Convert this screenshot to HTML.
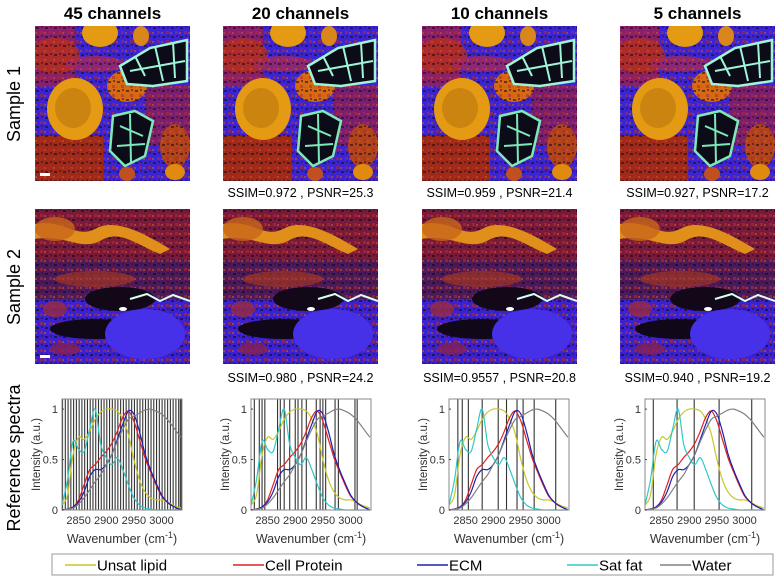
<!DOCTYPE html>
<html><head><meta charset="utf-8"><style>
body{margin:0;background:#fff;width:783px;height:582px;overflow:hidden;font-family:"Liberation Sans",Arial,sans-serif}
svg{display:block}
</style></head><body>
<svg id="fig" width="783" height="582" viewBox="0 0 783 582" xmlns="http://www.w3.org/2000/svg" font-family="Liberation Sans, Arial, sans-serif">
<defs>
<clipPath id="tileclip"><rect x="0" y="0" width="155" height="155"/></clipPath>
<pattern id="speck" width="9" height="9" patternUnits="userSpaceOnUse">
  <rect x="1" y="1" width="3" height="2" fill="#120818"/>
  <rect x="5" y="5" width="3" height="3" fill="#b02a30"/>
  <rect x="6" y="0" width="2" height="2" fill="#301040"/>
  <rect x="0" y="6" width="2" height="2" fill="#d05a20"/>
</pattern>
<g id="s1">
  <rect width="155" height="155" fill="#3a24d4"/>
  <rect x="0" y="0" width="40" height="60" fill="#8a1f6a"/>
  <rect x="0" y="110" width="68" height="45" fill="#a02a18"/>
  <rect x="110" y="60" width="45" height="60" fill="#7a1e70"/>
  <ellipse cx="20" cy="30" rx="25" ry="18" fill="#b5301a" opacity="0.8"/>
  <ellipse cx="60" cy="38" rx="30" ry="8" fill="#a02860" opacity="0.8"/>
  <ellipse cx="92" cy="60" rx="20" ry="16" fill="#d56a10"/>
  <ellipse cx="140" cy="120" rx="15" ry="22" fill="#b2441a"/>
  <rect width="155" height="155" fill="url(#speck)" opacity="0.55"/>
  <ellipse cx="140" cy="146" rx="10" ry="8" fill="#e08a10"/>
  <ellipse cx="40" cy="83" rx="28" ry="31" fill="#e49a12"/>
  <ellipse cx="38" cy="82" rx="18" ry="20" fill="#b06a10" opacity="0.45"/>
  <ellipse cx="65" cy="7" rx="18" ry="14" fill="#e49a12"/>
  <ellipse cx="106" cy="10" rx="8" ry="10" fill="#d9861a"/>
  <polygon points="85,40 115,22 152,14 152,55 118,60 92,58" fill="#0c0c18"/>
  <polygon points="85,40 115,22 152,14 152,55 118,60 92,58" fill="none" stroke="#9ff5d8" stroke-width="2.5"/>
  <path d="M100,30 L110,50 M120,20 L128,55 M138,16 L140,52 M95,45 L150,35" stroke="#9ff5d8" stroke-width="2"/>
  <polygon points="78,90 100,85 118,95 110,130 90,140 75,125" fill="#0c0c18"/>
  <polygon points="78,90 100,85 118,95 110,130 90,140 75,125" fill="none" stroke="#7ee8b8" stroke-width="2.5"/>
  <path d="M85,100 L108,110 M82,120 L110,118 M95,88 L96,138" stroke="#7ee8b8" stroke-width="2"/>
  <ellipse cx="92" cy="148" rx="8" ry="7" fill="#c05020"/>
</g>
<g id="s2">
  <rect width="155" height="155" fill="#3a22d0"/>
  <rect x="0" y="0" width="155" height="50" fill="#7a1a3a"/>
  <rect x="0" y="50" width="155" height="40" fill="#4a1a5a"/>
  <rect width="155" height="155" fill="url(#speck)" opacity="0.6"/>
  <path d="M0,15 C30,10 40,30 60,20 C80,8 110,25 135,40 L125,45 C100,35 85,20 65,32 C45,42 30,25 0,30 Z" fill="#e0901a"/>
  <ellipse cx="20" cy="20" rx="20" ry="12" fill="#c8661a" opacity="0.8"/>
  <ellipse cx="60" cy="70" rx="40" ry="8" fill="#b43a1a" opacity="0.6"/>
  <ellipse cx="85" cy="90" rx="35" ry="12" fill="#120818"/>
  <ellipse cx="60" cy="120" rx="45" ry="10" fill="#100818"/>
  <ellipse cx="110" cy="125" rx="40" ry="25" fill="#4630e8"/>
  <path d="M95,90 L112,85 L125,92 L138,86 L155,92" stroke="#d8fff0" stroke-width="2" fill="none"/>
  <ellipse cx="88" cy="100" rx="4" ry="2" fill="#fff"/>
  <ellipse cx="20" cy="100" rx="12" ry="8" fill="#9a2a40" opacity="0.8"/>
  <ellipse cx="30" cy="140" rx="15" ry="6" fill="#8a2050" opacity="0.8"/>
</g>
</defs>
<g id="content"></g>
</svg>
<script>
// ---- data ----
const wn = [2820,2830,2840,2850,2860,2870,2880,2890,2900,2910,2920,2930,2940,2950,2960,2970,2980,2990,3000,3010,3020,3035];
const unsatLipid = [0.05,0.15,0.55,0.72,0.7,0.78,0.9,0.97,1.0,1.0,0.98,0.9,0.75,0.5,0.3,0.18,0.12,0.1,0.1,0.08,0.05,0.02];
const cellProtein = [0,0.01,0.03,0.1,0.25,0.4,0.45,0.52,0.58,0.66,0.78,0.92,0.98,0.88,0.7,0.52,0.38,0.25,0.14,0.08,0.04,0];
const ecm = [0,0.01,0.03,0.08,0.18,0.33,0.4,0.4,0.45,0.55,0.7,0.85,0.98,0.95,0.78,0.56,0.4,0.27,0.15,0.08,0.04,0];
const satFat = [0.05,0.3,0.68,0.6,0.58,0.8,1.0,0.65,0.52,0.45,0.52,0.4,0.25,0.12,0.05,0.02,0.01,0,0,0,0,0];
const water = [0,0.01,0.02,0.06,0.12,0.2,0.28,0.35,0.45,0.55,0.68,0.8,0.9,0.93,0.96,0.99,1.0,0.98,0.95,0.9,0.83,0.72];
const channels45 = [2821,2826,2831,2836,2841,2846,2851,2856,2861,2866,2871,2876,2881,2886,2891,2896,2901,2906,2911,2916,2921,2926,2931,2936,2941,2946,2951,2956,2961,2966,2971,2976,2981,2986,2991,2996,3001,3006,3011,3016,3021,3026,3031,3034,3036];
const channels20 = [2826,2835,2840,2845,2868,2873,2880,2890,2900,2905,2912,2920,2938,2945,2950,2955,2972,2978,3008,3012];
const channels10 = [2836,2844,2855,2880,2909,2924,2943,2954,2974,3013];
const channels5 = [2835,2878,2909,2954,3013];
const xTicks = [2850,2900,2950,3000];
const yTicks = [0,0.5,1];
const yTickLabels = ["0","0.5","1"];
const titles = ["45 channels","20 channels","10 channels","5 channels"];
const ssim1 = ["","SSIM=0.972 , PSNR=25.3","SSIM=0.959 , PSNR=21.4","SSIM=0.927, PSNR=17.2"];
const ssim2 = ["","SSIM=0.980 , PSNR=24.2","SSIM=0.9557 , PSNR=20.8","SSIM=0.940 , PSNR=19.2"];
const seriesNames = ["Unsat lipid","Cell Protein","ECM","Sat fat","Water"];
const seriesColors = ["#c8c828","#e02020","#2020b0","#30c8c8","#808080"];

const NS="http://www.w3.org/2000/svg";
const root=document.getElementById('content');
function mk(tag,attrs,parent){const e=document.createElementNS(NS,tag);for(const k in attrs)e.setAttribute(k,attrs[k]);(parent||root).appendChild(e);return e;}
function txt(s,attrs,parent){const e=mk('text',attrs,parent);e.textContent=s;return e;}
function smooth(pts){let d='M'+pts[0][0].toFixed(1)+','+pts[0][1].toFixed(1);
  for(let i=0;i<pts.length-1;i++){const p0=pts[i-1]||pts[i],p1=pts[i],p2=pts[i+1],p3=pts[i+2]||p2;
    const c1=[p1[0]+(p2[0]-p0[0])/6,p1[1]+(p2[1]-p0[1])/6],c2=[p2[0]-(p3[0]-p1[0])/6,p2[1]-(p3[1]-p1[1])/6];
    d+=` C${c1[0].toFixed(1)},${c1[1].toFixed(1)} ${c2[0].toFixed(1)},${c2[1].toFixed(1)} ${p2[0].toFixed(1)},${p2[1].toFixed(1)}`;}
  return d;}

const colX=[35,223,422,620];
const series=[unsatLipid,cellProtein,ecm,satFat,water];
const chans=[channels45,channels20,channels10,channels5];
const panelL=[62,251,449,645];
const PW=120, PT=399, PB=510, XMIN=2820, XMAX=3037, YMAX=1.1;

let t;
t=txt("Sample 1",{x:0,y:0,'font-size':18,'text-anchor':'middle',transform:'translate(20,104) rotate(-90)'});

t=txt("Sample 2",{x:0,y:0,'font-size':18,'text-anchor':'middle',transform:'translate(20,287) rotate(-90)'});

t=txt("Reference spectra",{x:0,y:0,'font-size':18,'text-anchor':'middle',transform:'translate(20,458) rotate(-90)'});


for(let c=0;c<4;c++){
  const cx=colX[c]+77.5;
  t=txt(titles[c],{x:cx,y:19,'font-size':17,'font-weight':'bold','text-anchor':'middle'});
  
  const g1=mk('g',{transform:`translate(${colX[c]},26)`,'clip-path':'url(#tileclip)'});
  
  mk('use',{href:'#s1'},g1);
  const g2=mk('g',{transform:`translate(${colX[c]},209)`,'clip-path':'url(#tileclip)'});
  
  mk('use',{href:'#s2'},g2);
  if(c===0){
    let sb=mk('rect',{x:40,y:173,width:10,height:3,fill:'#fff'});
    
    sb=mk('rect',{x:40,y:355,width:10,height:3,fill:'#fff'});
    
  }
  if(ssim1[c]){t=txt(ssim1[c],{x:cx,y:197,'font-size':12.5,'text-anchor':'middle'});
    }
  if(ssim2[c]){t=txt(ssim2[c],{x:cx,y:382,'font-size':12.5,'text-anchor':'middle'});
    }

  const L=panelL[c];
  const X=v=>L+(v-XMIN)/(XMAX-XMIN)*PW;
  const Y=v=>PB-v/YMAX*(PB-PT);
  const pg=mk('g',{});
  
  mk('rect',{x:L,y:PT,width:PW,height:PB-PT,fill:'#fff'},pg);
  chans[c].forEach(w=>{const l=mk('line',{x1:X(w),x2:X(w),y1:PT,y2:PB,stroke:'#333','stroke-width':1.1},pg);
    });
  series.forEach((s,i)=>{
    const p=mk('path',{d:smooth(s.map((v,j)=>[X(wn[j]),Y(v)])),fill:'none',stroke:seriesColors[i],'stroke-width':1.2,'stroke-linejoin':'round'},pg);
    
    
  });
  mk('rect',{x:L,y:PT,width:PW,height:PB-PT,fill:'none',stroke:'#888','stroke-width':1},pg);
  yTicks.forEach((v,i)=>{mk('line',{x1:L,x2:L+2,y1:Y(v),y2:Y(v),stroke:'#444'},pg);
    const tt=txt(yTickLabels[i],{x:L-4,y:Y(v)+4,'font-size':11,'text-anchor':'end',fill:'#333'},pg);
    });
  xTicks.forEach(v=>{const tt=txt(String(v),{x:X(v),y:524,'font-size':11,'text-anchor':'middle',fill:'#333'},pg);
    });
  t=txt("Intensity (a.u.)",{x:0,y:0,'font-size':11.5,'text-anchor':'middle',fill:'#333',transform:`translate(${L-22},${(PT+PB)/2}) rotate(-90)`},pg);
  
  t=mk('text',{x:L+PW/2,y:543,'font-size':12.5,'text-anchor':'middle',fill:'#333'},pg);
  t.innerHTML='Wavenumber (cm<tspan dy="-5" font-size="9">-1</tspan><tspan dy="5">)</tspan>';
  
}

const lg=mk('g',{});

mk('rect',{x:52,y:554,width:721,height:21,fill:'#fff',stroke:'#999','stroke-width':1},lg);
const legX=[65,233,417,567,660];
seriesNames.forEach((n,i)=>{
  const e=mk('g',{},lg);
  
  mk('line',{x1:legX[i],x2:legX[i]+31,y1:565,y2:565,stroke:seriesColors[i],'stroke-width':1.5},e);
  txt(n,{x:legX[i]+32,y:570.5,'font-size':15},e);
});
</script>
</body></html>
